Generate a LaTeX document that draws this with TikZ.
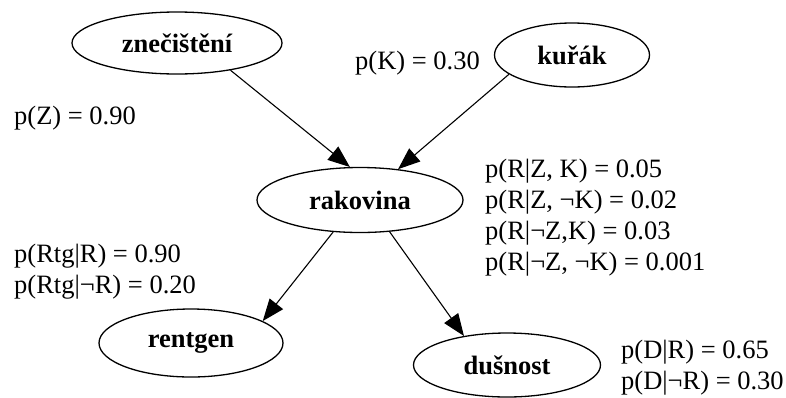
\documentclass[tikz,border=0pt]{standalone}
\usepackage{fontspec}
\setmainfont{Liberation Serif}
\usetikzlibrary{shapes.geometric,arrows.meta}
\begin{document}
\begin{tikzpicture}[x=1pt,y=-1pt,
  var/.style={ellipse,draw=black,line width=1.3pt,inner sep=0pt,
    font=\fontsize{26.5}{30}\selectfont\bfseries},
  prob/.style={anchor=west,inner sep=0pt,align=left,
    font=\fontsize{26.5}{31}\selectfont},
  edge/.style={line width=1.1pt,-{Triangle[length=22pt,width=17pt]}}]
\useasboundingbox (0,0) rectangle (786,397);
% variables of the network
\node[var,minimum width=210pt,minimum height=62pt] (z) at (177,43) {znečištění};
\node[var,minimum width=155pt,minimum height=64pt] (k) at (572,55) {kuřák};
\node[var,minimum width=206pt,minimum height=65pt] (r) at (360,200) {rakovina};
\node[var,minimum width=184pt,minimum height=68pt] (g) at (191,343) {rentgen};
\node[var,minimum width=187pt,minimum height=64pt] (d) at (507,365) {dušnost};
% probability tables
\node[prob] (pz) at (14,118) {p(Z) = 0.90};
\node[prob] (pk) at (355,63) {p(K) = 0.30};
\node[prob,anchor=north west] (pr) at (485,159)
  {p(R|Z, K) = 0.05\\p(R|Z, ¬K) = 0.02\\p(R|¬Z,K) = 0.03\\p(R|¬Z, ¬K) = 0.001};
\node[prob,anchor=north west] (pg) at (14,244)
  {p(Rtg|R) = 0.90\\p(Rtg|¬R) = 0.20};
\node[prob,anchor=north west] (pd) at (621,340)
  {p(D|R) = 0.65\\p(D|¬R) = 0.30};
% dependencies
\draw[edge] (z.-27) -- (r.107);
\draw[edge] (k.197) -- (r.39);
\draw[edge] (r.230) -- (g.17);
\draw[edge] (r.-47) -- (d.146);
\end{tikzpicture}
\end{document}
